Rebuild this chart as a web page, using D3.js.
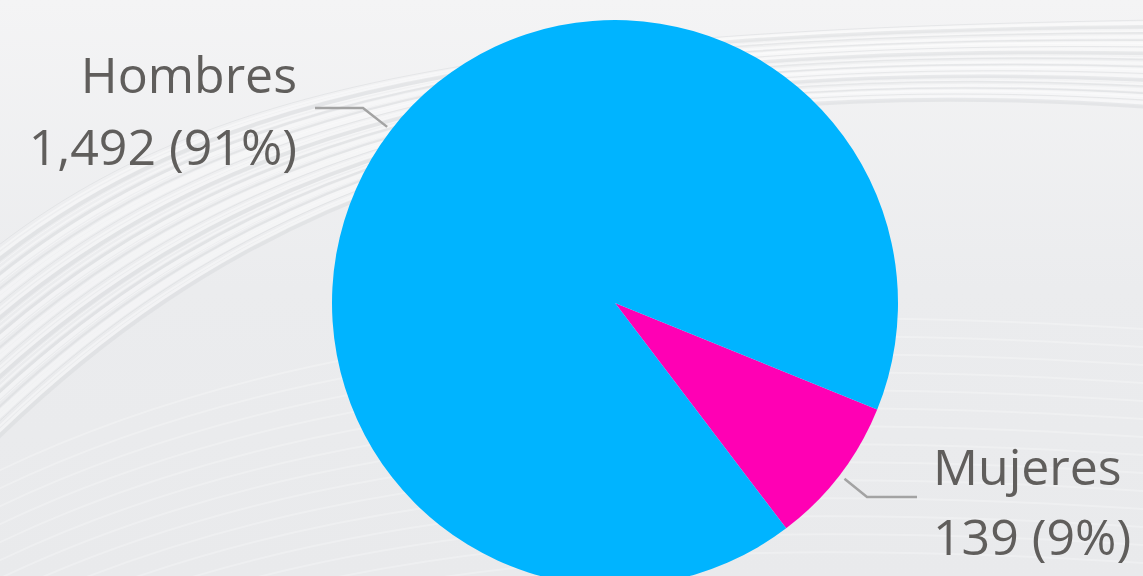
<!DOCTYPE html>
<html><head><meta charset="utf-8">
<script src="https://cdn.jsdelivr.net/npm/d3@7"></script>
<style>html,body{margin:0;padding:0;overflow:hidden;background:#eceef0}</style>
</head><body>
<svg id="c" width="1143" height="576"></svg>
<script>
const categories = ["Mujeres", "Hombres"];
const values = [139, 1492];
const valueLabels = ["139 (9%)", "1,492 (91%)"];
const colors = ["#FF00B4", "#00B4FF"];

const W = 1143, H = 576;
const svg = d3.select("#c");
const defs = svg.append("defs");
const bg = defs.append("linearGradient").attr("id","bg").attr("x1",0).attr("y1",0).attr("x2",0).attr("y2",1);
bg.append("stop").attr("offset","0%").attr("stop-color","#f4f4f5");
bg.append("stop").attr("offset","50%").attr("stop-color","#ebecee");
bg.append("stop").attr("offset","100%").attr("stop-color","#e9eaec");
svg.append("rect").attr("width",W).attr("height",H).attr("fill","url(#bg)");

// decorative swirl texture
const deco = svg.append("g").attr("fill","none");
for (let i = 0; i < 40; i++) {
  const t = i / 40;
  const y0 = 260 + t * 200;
  deco.append("path")
    .attr("d", `M-20,${y0} C200,${y0-180-40*t} 500,${30+30*t} 1160,${20+90*t}`)
    .attr("stroke", i % 3 === 0 ? "#d3d5d8" : "#ffffff")
    .attr("stroke-width", 1 + (i % 4))
    .attr("opacity", 0.4);
}
for (let i = 0; i < 14; i++) {
  const y0 = 360 + i * 18;
  deco.append("path")
    .attr("d", `M-20,${y0+120} C300,${y0-40} 700,${y0-60} 1160,${y0-30}`)
    .attr("stroke", "#ffffff").attr("stroke-width", 2).attr("opacity", 0.25);
}

const cx = 615, cy = 303, R = 283;
const pie = d3.pie().sort(null).value(d => d)
  .startAngle(112.1 * Math.PI / 180)
  .endAngle(112.1 * Math.PI / 180 + 2 * Math.PI);
const arcs = pie(values);
const arc = d3.arc().innerRadius(0).outerRadius(R);
const g = svg.append("g").attr("transform", `translate(${cx},${cy})`);
g.selectAll("path.slice").data(arcs).join("path")
  .attr("class","slice").attr("d", arc).attr("fill", (d,i) => colors[i]);

// labels
const font = "'Segoe UI','Open Sans','Noto Sans',sans-serif";
const lab = svg.append("g").attr("font-family", font).attr("fill", "#605E5C").attr("font-size", 50);
const leader = svg.append("g").attr("fill","none").attr("stroke","#a3a3a3").attr("stroke-width",2.5);

const pt = (a, r) => [cx + r * Math.sin(a), cy - r * Math.cos(a)];
{
  const a = 307.7 * Math.PI / 180;
  const p0 = pt(a, R + 5);
  leader.append("polyline").attr("points", `${p0[0]},${p0[1]} 363,108 315,108`);
  lab.append("text").attr("x", 297).attr("y", 93).attr("text-anchor","end").text(categories[1]);
  lab.append("text").attr("x", 297).attr("y", 165).attr("text-anchor","end").text(valueLabels[1]);
}
{
  const mid = (arcs[0].startAngle + arcs[0].endAngle) / 2;
  const p0 = pt(mid, R + 6);
  leader.append("polyline").attr("points", `${p0[0]},${p0[1]} 867,497 917,497`);
  lab.append("text").attr("x", 933).attr("y", 485).attr("text-anchor","start").text(categories[0]);
  lab.append("text").attr("x", 933).attr("y", 555).attr("text-anchor","start").text(valueLabels[0]);
}
</script>
</body></html>
